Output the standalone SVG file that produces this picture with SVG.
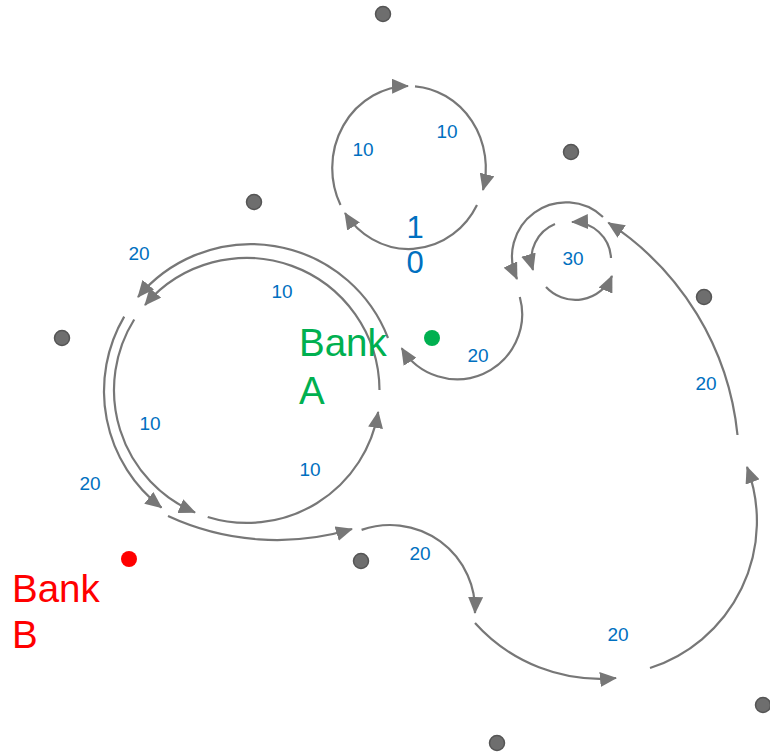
<svg xmlns="http://www.w3.org/2000/svg" width="770" height="754" viewBox="0 0 770 754">
  <style>
    .flow { fill: none; stroke: #777777; stroke-width: 2.2; marker-end: url(#ah); }
    .dot { fill: #6e6e6e; stroke: #555555; stroke-width: 1.5; }
    .amt { font-family: "Liberation Sans", Arial, sans-serif; font-size: 19px; fill: #0070c0; text-anchor: middle; }
    .bank { font-family: "Liberation Sans", Arial, sans-serif; font-size: 38.5px; }
  </style>
  <defs>
    <marker id="ah" markerUnits="userSpaceOnUse" markerWidth="18" markerHeight="15" refX="16" refY="7.5" orient="auto" viewBox="0 0 18 15">
      <path d="M0,0 L17,7.5 L0,15 z" fill="#777777"/>
    </marker>
  </defs>
  <rect width="770" height="754" fill="#ffffff"/>

  <!-- flow arcs -->
  <g id="connectors">
    <!-- upper loop -->
    <path class="flow" d="M340.5,205 A77,82 0 0 1 408,86"/>
    <path class="flow" d="M415,86.3 A77,82 0 0 1 483,190"/>
    <path class="flow" d="M477,205 A77,82 0 0 1 345,213"/>
    <!-- Bank A inner loop -->
    <path class="flow" d="M379.5,390 A133,133 0 0 0 145,305"/>
    <path class="flow" d="M134.2,319.5 A133,133 0 0 0 195,512.4"/>
    <path class="flow" d="M207.7,517 A133,133 0 0 0 378.2,412"/>
    <!-- outer ring -->
    <path class="flow" d="M388,338 A147,147 0 0 0 138,297"/>
    <path class="flow" d="M124.2,316.6 A147,147 0 0 0 161.5,507.6"/>
    <path class="flow" d="M168,516 A260,260 0 0 0 352,529"/>
    <path class="flow" d="M361.6,529.9 A85,85 0 0 1 475,613"/>
    <path class="flow" d="M475,623 A168,168 0 0 0 616,678"/>
    <path class="flow" d="M650,668 A154,154 0 0 0 747,467"/>
    <path class="flow" d="M737.5,435 A288,288 0 0 0 608.3,222.7"/>
    <path class="flow" d="M603,217 A54,54 0 0 0 517,279"/>
    <path class="flow" d="M519.8,297 A65,65 0 0 1 401.7,348.2"/>
    <!-- small loop -->
    <path class="flow" d="M555,224 A38,38 0 0 0 533,270"/>
    <path class="flow" d="M611,258 A38,38 0 0 0 572,222"/>
    <path class="flow" d="M546,287 A40,40 0 0 0 612,276"/>
  </g>

  <!-- flow amounts -->
  <g id="amounts">
    <text class="amt" x="363" y="156">10</text>
    <text class="amt" x="447" y="138">10</text>
    <text class="amt" x="282" y="298">10</text>
    <text class="amt" x="150" y="430">10</text>
    <text class="amt" x="310" y="476">10</text>
    <text class="amt" x="139" y="260">20</text>
    <text class="amt" x="90" y="490">20</text>
    <text class="amt" x="478" y="362">20</text>
    <text class="amt" x="420" y="560">20</text>
    <text class="amt" x="618" y="641">20</text>
    <text class="amt" x="706" y="390">20</text>
    <text class="amt" x="573" y="265">30</text>
    <text x="415" y="238" font-family="Liberation Sans, Arial, sans-serif" font-size="31" fill="#0070c0" text-anchor="middle">1</text>
    <text x="415" y="273" font-family="Liberation Sans, Arial, sans-serif" font-size="31" fill="#0070c0" text-anchor="middle">0</text>
  </g>

  <!-- nodes -->
  <g id="node-1"><circle class="dot" cx="383" cy="14" r="7.5"/></g>
  <g id="node-2"><circle class="dot" cx="571" cy="152" r="7.5"/></g>
  <g id="node-3"><circle class="dot" cx="254" cy="202" r="7.5"/></g>
  <g id="node-4"><circle class="dot" cx="62" cy="338" r="7.5"/></g>
  <g id="node-5"><circle class="dot" cx="704" cy="297" r="7.5"/></g>
  <g id="node-6"><circle class="dot" cx="361" cy="561" r="7.5"/></g>
  <g id="node-7"><circle class="dot" cx="497" cy="743" r="7.5"/></g>
  <g id="node-8"><circle class="dot" cx="763" cy="705" r="7.5"/></g>

  <g id="bank-a">
    <circle cx="432" cy="338" r="8" fill="#00b050"/>
    <text class="bank" x="299" y="356" fill="#00b050">Bank</text>
    <text class="bank" x="299" y="404" fill="#00b050">A</text>
  </g>
  <g id="bank-b">
    <circle cx="129" cy="559" r="8" fill="#ff0000"/>
    <text class="bank" x="12" y="602" fill="#ff0000">Bank</text>
    <text class="bank" x="12" y="648" fill="#ff0000">B</text>
  </g>
</svg>
